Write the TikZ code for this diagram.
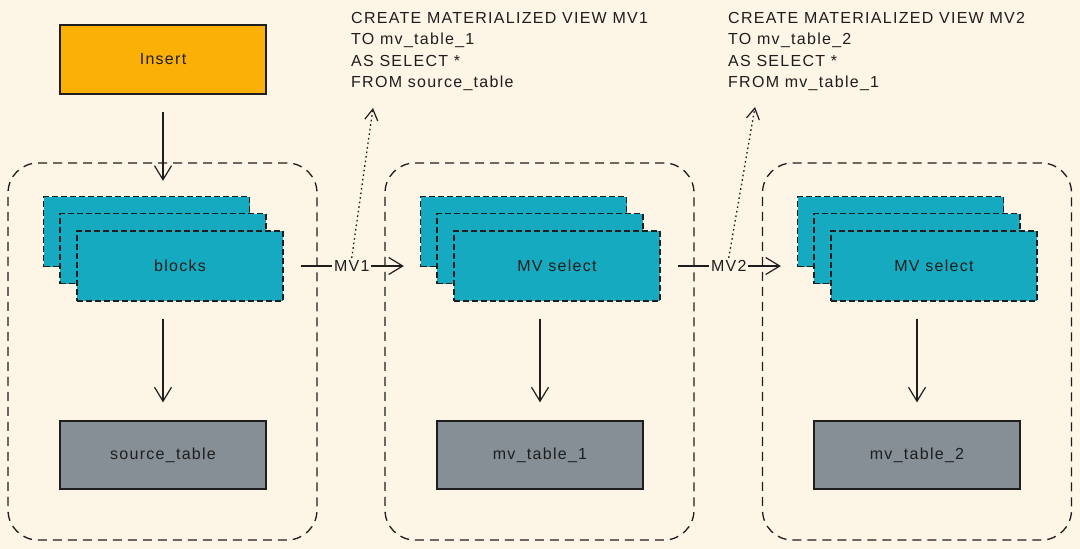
\documentclass[tikz,border=0pt]{standalone}
\usepackage{fontspec}
\setmainfont[LetterSpace=8]{Liberation Sans}
\usetikzlibrary{arrows.meta}
\definecolor{bg}{HTML}{FDF5E6}
\definecolor{ink}{HTML}{1E1E1E}
\definecolor{cyanf}{HTML}{15AABF}
\definecolor{greyf}{HTML}{868E96}
\definecolor{orangef}{HTML}{FAB005}
\begin{document}
\begin{tikzpicture}[x=1pt,y=-1pt,
  lab/.style={font=\fontsize{16}{19}\selectfont, text=ink},
  container/.style={draw=ink, dash pattern=on 9pt off 6pt, rounded corners=30pt, line width=1.3pt, minimum width=309pt, minimum height=377pt, inner sep=0pt},
  blockrect/.style={draw=ink, fill=cyanf, dash pattern=on 6pt off 3pt, line width=1.3pt, minimum width=206pt, minimum height=70pt, inner sep=0pt, lab},
  tablebox/.style={draw=ink, fill=greyf, line width=1.3pt, minimum width=206pt, minimum height=68pt, inner sep=0pt, lab},
  insertbox/.style={draw=ink, fill=orangef, line width=1.3pt, minimum width=206pt, minimum height=69pt, inner sep=0pt, lab},
  arr/.style={draw=ink, line width=1.2pt, -{Straight Barb[length=14pt,width=17pt,line width=1.2pt]}},
  dotarr/.style={draw=ink, line width=1.3pt, dash pattern=on 1.6pt off 3pt, -{Straight Barb[length=11pt,width=13pt,line width=1.2pt]}},
  mvlabel/.style={lab, fill=bg, inner sep=2pt},
  sql/.style={lab, font=\fontsize{16}{21.5}\selectfont, align=left, inner sep=0pt, anchor=north west}
]
\path[fill=bg] (0,0) rectangle (1080,549);
\useasboundingbox (0,0) rectangle (1080,549);

% containers
\node[container] (c1) at (162.5,351.5) {};
\node[container] (c2) at (539.5,351.5) {};
\node[container] (c3) at (917,351.5) {};

% insert
\node[insertbox] (insert) at (163,59.5) {Insert};

% stacked blocks
\node[blockrect] (b1a) at (146.5,231.5) {};
\node[blockrect] (b1b) at (163,248.5) {};
\node[blockrect] (b1c) at (180,266) {blocks};
\node[blockrect] (b2a) at (523.5,231.5) {};
\node[blockrect] (b2b) at (540,248.5) {};
\node[blockrect] (b2c) at (557,266) {MV select};
\node[blockrect] (b3a) at (900.5,231.5) {};
\node[blockrect] (b3b) at (917,248.5) {};
\node[blockrect] (b3c) at (934,266) {MV select};

% tables
\node[tablebox] (t1) at (163,455) {source\_table};
\node[tablebox] (t2) at (540,455) {mv\_table\_1};
\node[tablebox] (t3) at (917,455) {mv\_table\_2};

% SQL texts
\node[sql] (s1) at (351,12) {CREATE MATERIALIZED VIEW MV1\\TO mv\_table\_1\\AS SELECT *\\FROM source\_table};
\node[sql] (s2) at (728,12) {CREATE MATERIALIZED VIEW MV2\\TO mv\_table\_2\\AS SELECT *\\FROM mv\_table\_1};

% arrows
\draw[arr, shorten <=17pt, shorten >=15pt] (insert.south) -- (insert.south |- b1a.north);
\draw[arr, shorten <=17pt, shorten >=18pt] (t1.north |- b1c.south) -- (t1.north);
\draw[arr, shorten <=17pt, shorten >=18pt] (t2.north |- b2c.south) -- (t2.north);
\draw[arr, shorten <=17pt, shorten >=18pt] (t3.north |- b3c.south) -- (t3.north);

\draw[arr, shorten <=17pt, shorten >=16pt] (b1c.east) -- (b1c.east -| b2a.west) node[mvlabel, midway] (m1) {MV1};
\draw[arr, shorten <=17pt, shorten >=16pt] (b2c.east) -- (b2c.east -| b3a.west) node[mvlabel, midway] (m2) {MV2};

\coordinate (q1) at (373,108);
\coordinate (q2) at (755,107);
\draw[dotarr] (m1.north) -- (q1);
\draw[dotarr] (m2.north) -- (q2);
\end{tikzpicture}
\end{document}
